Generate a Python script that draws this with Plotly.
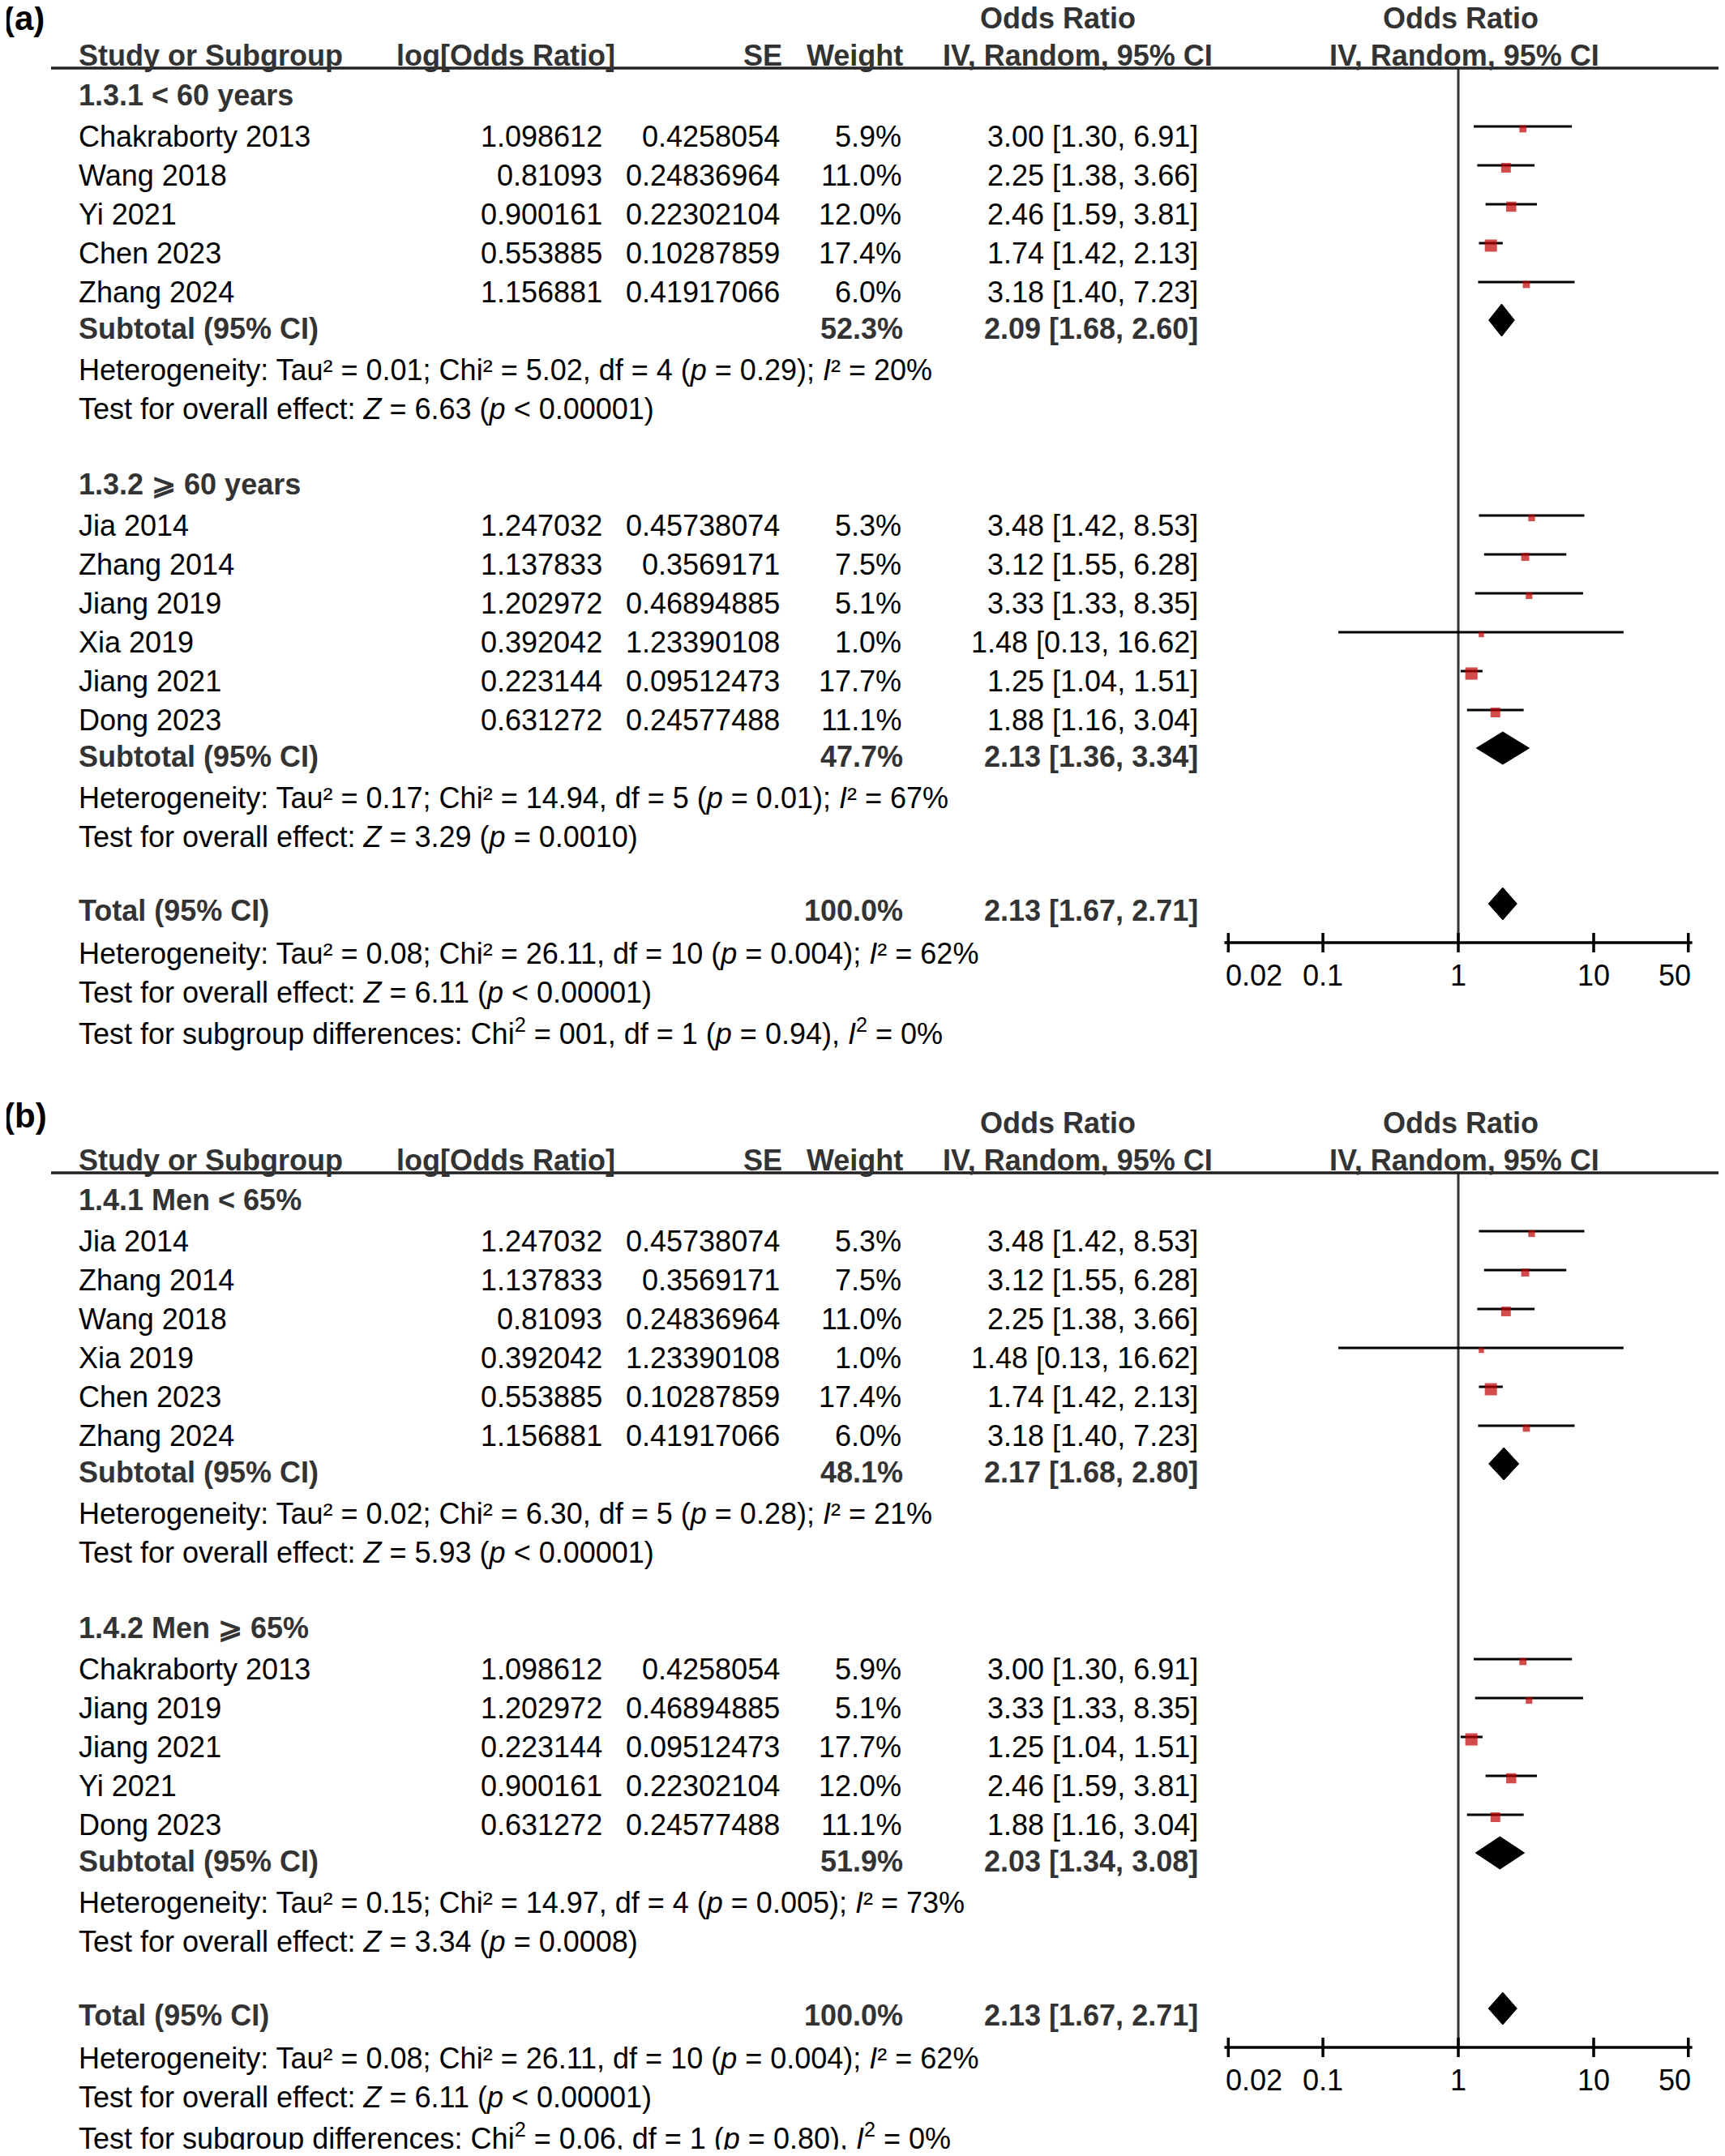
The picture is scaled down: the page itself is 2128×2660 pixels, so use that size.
import math
import plotly.graph_objects as go

W, H = 2128, 2660          # page (window) size in pixels
BODY = 8                   # default <body> margin of the written page
FW, FH = W - 2 * BODY, H - 2 * BODY   # figure size so the page fits exactly
FONT = "Liberation Sans, Arial, sans-serif"
BOLD_COLOR = "#333333"
RED = "#C00000"

# ------------------------------------------------------------------ data
# Panel (a): age subgroups
a1_title = "1.3.1 &lt; 60 years"
a1_study = ["Chakraborty 2013", "Wang 2018", "Yi 2021", "Chen 2023", "Zhang 2024"]
a1_logor = ["1.098612", "0.81093", "0.900161", "0.553885", "1.156881"]
a1_se = ["0.4258054", "0.24836964", "0.22302104", "0.10287859", "0.41917066"]
a1_weight = [5.9, 11.0, 12.0, 17.4, 6.0]
a1_or = [3.00, 2.25, 2.46, 1.74, 3.18]
a1_lo = [1.30, 1.38, 1.59, 1.42, 1.40]
a1_hi = [6.91, 3.66, 3.81, 2.13, 7.23]
a1_sub = [52.3, 2.09, 1.68, 2.60]
a1_het = "Heterogeneity: Tau² = 0.01; Chi² = 5.02, df = 4 (<i>p</i> = 0.29); <i>I</i>² = 20%"
a1_test = "Test for overall effect: <i>Z</i> = 6.63 (<i>p</i> &lt; 0.00001)"

a2_title = "1.3.2 ⩾ 60 years"
a2_study = ["Jia 2014", "Zhang 2014", "Jiang 2019", "Xia 2019", "Jiang 2021", "Dong 2023"]
a2_logor = ["1.247032", "1.137833", "1.202972", "0.392042", "0.223144", "0.631272"]
a2_se = ["0.45738074", "0.3569171", "0.46894885", "1.23390108", "0.09512473", "0.24577488"]
a2_weight = [5.3, 7.5, 5.1, 1.0, 17.7, 11.1]
a2_or = [3.48, 3.12, 3.33, 1.48, 1.25, 1.88]
a2_lo = [1.42, 1.55, 1.33, 0.13, 1.04, 1.16]
a2_hi = [8.53, 6.28, 8.35, 16.62, 1.51, 3.04]
a2_sub = [47.7, 2.13, 1.36, 3.34]
a2_het = "Heterogeneity: Tau² = 0.17; Chi² = 14.94, df = 5 (<i>p</i> = 0.01); <i>I</i>² = 67%"
a2_test = "Test for overall effect: <i>Z</i> = 3.29 (<i>p</i> = 0.0010)"

a_total = [100.0, 2.13, 1.67, 2.71]
a_total_het = "Heterogeneity: Tau² = 0.08; Chi² = 26.11, df = 10 (<i>p</i> = 0.004); <i>I</i>² = 62%"
a_total_test = "Test for overall effect: <i>Z</i> = 6.11 (<i>p</i> &lt; 0.00001)"
a_subgroup = "Test for subgroup differences: Chi<sup>2</sup> = 001, df = 1 (<i>p</i> = 0.94), <i>I</i><sup>2</sup> = 0%"

# Panel (b): sex-ratio subgroups
b1_title = "1.4.1 Men &lt; 65%"
b1_study = ["Jia 2014", "Zhang 2014", "Wang 2018", "Xia 2019", "Chen 2023", "Zhang 2024"]
b1_logor = ["1.247032", "1.137833", "0.81093", "0.392042", "0.553885", "1.156881"]
b1_se = ["0.45738074", "0.3569171", "0.24836964", "1.23390108", "0.10287859", "0.41917066"]
b1_weight = [5.3, 7.5, 11.0, 1.0, 17.4, 6.0]
b1_or = [3.48, 3.12, 2.25, 1.48, 1.74, 3.18]
b1_lo = [1.42, 1.55, 1.38, 0.13, 1.42, 1.40]
b1_hi = [8.53, 6.28, 3.66, 16.62, 2.13, 7.23]
b1_sub = [48.1, 2.17, 1.68, 2.80]
b1_het = "Heterogeneity: Tau² = 0.02; Chi² = 6.30, df = 5 (<i>p</i> = 0.28); <i>I</i>² = 21%"
b1_test = "Test for overall effect: <i>Z</i> = 5.93 (<i>p</i> &lt; 0.00001)"

b2_title = "1.4.2 Men ⩾ 65%"
b2_study = ["Chakraborty 2013", "Jiang 2019", "Jiang 2021", "Yi 2021", "Dong 2023"]
b2_logor = ["1.098612", "1.202972", "0.223144", "0.900161", "0.631272"]
b2_se = ["0.4258054", "0.46894885", "0.09512473", "0.22302104", "0.24577488"]
b2_weight = [5.9, 5.1, 17.7, 12.0, 11.1]
b2_or = [3.00, 3.33, 1.25, 2.46, 1.88]
b2_lo = [1.30, 1.33, 1.04, 1.59, 1.16]
b2_hi = [6.91, 8.35, 1.51, 3.81, 3.04]
b2_sub = [51.9, 2.03, 1.34, 3.08]
b2_het = "Heterogeneity: Tau² = 0.15; Chi² = 14.97, df = 4 (<i>p</i> = 0.005); <i>I</i>² = 73%"
b2_test = "Test for overall effect: <i>Z</i> = 3.34 (<i>p</i> = 0.0008)"

b_total = [100.0, 2.13, 1.67, 2.71]
b_total_het = "Heterogeneity: Tau² = 0.08; Chi² = 26.11, df = 10 (<i>p</i> = 0.004); <i>I</i>² = 62%"
b_total_test = "Test for overall effect: <i>Z</i> = 6.11 (<i>p</i> &lt; 0.00001)"
b_subgroup = "Test for subgroup differences: Chi<sup>2</sup> = 0.06, df = 1 (<i>p</i> = 0.80), <i>I</i><sup>2</sup> = 0%"

tick_vals = [0.02, 0.1, 1, 10, 50]
tick_text = ["0.02", "0.1", "1", "10", "50"]

# ------------------------------------------------------------------ layout constants (page pixels)
X_ONE = 1799.0      # page pixel of OR = 1
DECADE = 167.0      # pixels per decade on the log axis
FS = 36

anns = []
shapes = []
fig = go.Figure()


def px(xp):
    return (xp - BODY) / FW


def txt(xp, yp, s, anchor="left", bold=False, size=FS, color=None):
    if color is None:
        color = BOLD_COLOR if bold else "black"
    anns.append(dict(x=px(xp), xref="paper", y=yp, yref="y",
                     text=("<b>%s</b>" % s) if bold else s,
                     xanchor=anchor, yanchor="middle", showarrow=False,
                     font=dict(family=FONT, size=size, color=color)))


ci_x, ci_y = [], []
sq_x, sq_y, sq_s = [], [], []
diamonds = []
vlines_x, vlines_y = [], []
axis_x, axis_y = [], []


def diamond(est, lo, hi, yc, half=20):
    diamonds.append(([lo, est, hi, est, lo], [yc, yc - half, yc, yc + half, yc]))


def panel(label, off, label_y, groups, total, total_het, total_test, subgroup):
    # header
    txt(2, label_y, label, bold=True, size=42, color="black")
    txt(1207, 22 + off, "Odds Ratio", bold=True)
    txt(1802, 22 + off, "Odds Ratio", anchor="center", bold=True)
    txt(95, 68 + off, "Study or Subgroup", bold=True)
    txt(487, 68 + off, "log[Odds Ratio]", bold=True)
    txt(967, 68 + off, "SE", anchor="right", bold=True)
    txt(1116, 68 + off, "Weight", anchor="right", bold=True)
    txt(1161, 68 + off, "IV, Random, 95% CI", bold=True)
    txt(1806, 68 + off, "IV, Random, 95% CI", anchor="center", bold=True)
    rule_y = 84 + off
    shapes.append(dict(type="line", xref="paper", yref="y", x0=px(63), x1=px(2120),
                       y0=rule_y, y1=rule_y, line=dict(color="#222222", width=3.5)))

    y = 117 + off
    for gi, g in enumerate(groups):
        title, study, logor, se, weight, orv, lo, hi, sub, het, test = g
        if gi > 0:
            y = y + 93
        txt(95, y, title, bold=True)
        y += 51
        for i in range(len(study)):
            txt(95, y, study[i])
            txt(745, y, logor[i], anchor="right")
            txt(964, y, se[i], anchor="right")
            txt(1114, y, "%.1f%%" % weight[i], anchor="right")
            txt(1480, y, "%.2f [%.2f, %.2f]" % (orv[i], lo[i], hi[i]), anchor="right")
            ly = y - 12
            ci_x.extend([lo[i], hi[i], None])
            ci_y.extend([ly, ly, None])
            sq_x.append(orv[i])
            sq_y.append(ly + 3)
            sq_s.append(max(6.5, 3.6 * math.sqrt(weight[i])))
            if i < len(study) - 1:
                y += 48
        y += 45
        txt(95, y, "Subtotal (95% CI)", bold=True)
        txt(1116, y, "%.1f%%" % sub[0], anchor="right", bold=True)
        txt(1480, y, "%.2f [%.2f, %.2f]" % (sub[1], sub[2], sub[3]), anchor="right", bold=True)
        diamond(sub[1], sub[2], sub[3], y - 10)
        y += 51
        txt(95, y, het)
        y += 48
        txt(95, y, test)
    y += 91
    txt(95, y, "Total (95% CI)", bold=True)
    txt(1116, y, "%.1f%%" % total[0], anchor="right", bold=True)
    txt(1480, y, "%.2f [%.2f, %.2f]" % (total[1], total[2], total[3]), anchor="right", bold=True)
    diamond(total[1], total[2], total[3], y - 8)
    ax_y = y + 40
    txt(95, y + 53, total_het)
    txt(95, y + 101, total_test)
    txt(95, y + 150, subgroup)

    # vertical line of no effect
    vlines_x.extend([1, 1, None])
    vlines_y.extend([rule_y, ax_y, None])
    # axis line + crossing ticks
    axis_x.extend([tick_vals[0] * 0.935, tick_vals[-1] * 1.07, None])
    axis_y.extend([ax_y, ax_y, None])
    n = len(tick_vals)
    for k, (v, t) in enumerate(zip(tick_vals, tick_text)):
        axis_x.extend([v, v, None])
        axis_y.extend([ax_y - 12, ax_y + 12, None])
        if k == 0:
            xa, xs = "left", -5
        elif k == n - 1:
            xa, xs = "right", 5
        else:
            xa, xs = "center", 0
        anns.append(dict(x=math.log10(v), xref="x", y=ax_y + 40, yref="y", text=t,
                         xanchor=xa, xshift=xs, yanchor="middle", showarrow=False,
                         font=dict(family=FONT, size=FS, color="black")))


panel("(a)", 0, 22,
      [(a1_title, a1_study, a1_logor, a1_se, a1_weight, a1_or, a1_lo, a1_hi, a1_sub, a1_het, a1_test),
       (a2_title, a2_study, a2_logor, a2_se, a2_weight, a2_or, a2_lo, a2_hi, a2_sub, a2_het, a2_test)],
      a_total, a_total_het, a_total_test, a_subgroup)
panel("(b)", 1363, 1376,
      [(b1_title, b1_study, b1_logor, b1_se, b1_weight, b1_or, b1_lo, b1_hi, b1_sub, b1_het, b1_test),
       (b2_title, b2_study, b2_logor, b2_se, b2_weight, b2_or, b2_lo, b2_hi, b2_sub, b2_het, b2_test)],
      b_total, b_total_het, b_total_test, b_subgroup)

fig.add_trace(go.Scatter(x=vlines_x, y=vlines_y, mode="lines",
                         line=dict(color="#333333", width=3), hoverinfo="skip"))
fig.add_trace(go.Scatter(x=axis_x, y=axis_y, mode="lines",
                         line=dict(color="black", width=3.5), hoverinfo="skip"))
fig.add_trace(go.Scatter(x=ci_x, y=ci_y, mode="lines",
                         line=dict(color="black", width=3), hoverinfo="skip"))
fig.add_trace(go.Scatter(x=sq_x, y=sq_y, mode="markers",
                         marker=dict(symbol="square", size=sq_s, color=RED,
                                     line=dict(width=0))))
for dx, dy in diamonds:
    fig.add_trace(go.Scatter(x=dx, y=dy, mode="lines", fill="toself",
                             fillcolor="black", line=dict(color="black", width=1),
                             hoverinfo="skip"))

fig.update_layout(
    width=FW, height=FH, autosize=False,
    margin=dict(l=0, r=0, t=0, b=0, pad=0),
    paper_bgcolor="white", plot_bgcolor="white",
    showlegend=False,
    xaxis=dict(type="log", range=[(BODY - X_ONE) / DECADE, (BODY + FW - X_ONE) / DECADE],
               domain=[0, 1], visible=False, fixedrange=True),
    yaxis=dict(range=[BODY + FH, BODY], domain=[0, 1], visible=False, fixedrange=True),
    annotations=anns, shapes=shapes,
    font=dict(family=FONT, size=FS, color="black"),
)

fig.write_html("out.html")
